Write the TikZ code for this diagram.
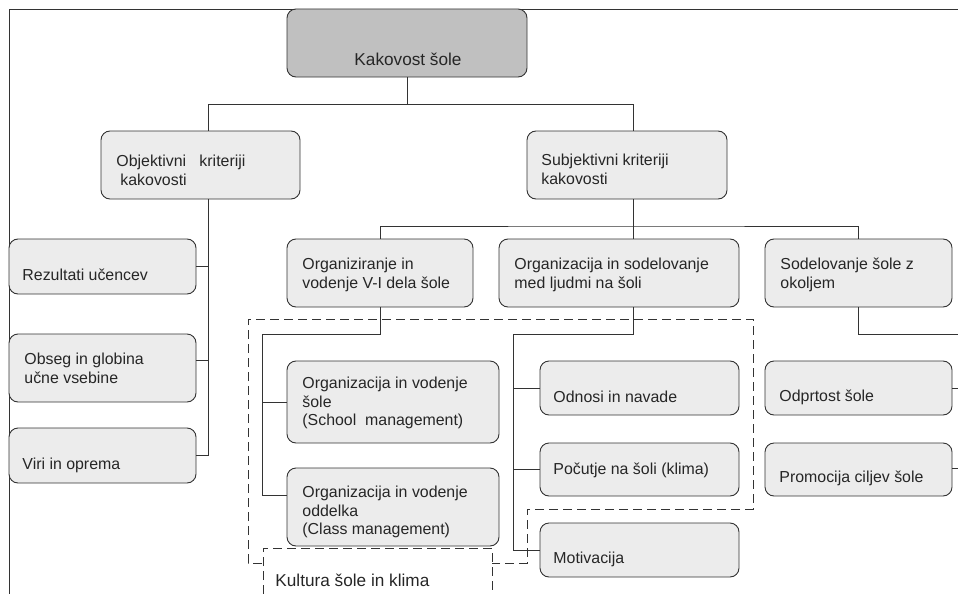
\documentclass[tikz,border=0pt]{standalone}
\usepackage{fontspec}
\setmainfont{Liberation Sans}
\usetikzlibrary{positioning}
\definecolor{boxgray}{RGB}{236,236,236}
\definecolor{topgray}{RGB}{192,192,192}
\definecolor{linegray}{RGB}{51,51,51}
\begin{document}
\begin{tikzpicture}[x=1pt,y=-1pt,line width=0.9pt,color=linegray,
  box/.style={draw=linegray,fill=boxgray,rounded corners=9pt,inner sep=0pt},
  topbox/.style={box,fill=topgray},
  txt/.style={anchor=west,inner sep=0pt,align=left,text=black!85,font=\fontsize{15.9}{18.8}\selectfont},
  bigtxt/.style={txt,font=\fontsize{17.2}{20}\selectfont},
  kult/.style={dash pattern=on 9pt off 5pt}]
\useasboundingbox (0,0) rectangle (958,594);
% frame of the page
\draw (958,9) -- (9,9) -- (9,594);
% boxes
\node[topbox,minimum width=240pt,minimum height=68pt] (kak) at (407,43) {};
\node[box,minimum width=199pt,minimum height=68pt] (obj) at (200.5,165) {};
\node[box,minimum width=200pt,minimum height=68pt] (sub) at (627,165) {};
\node[box,minimum width=187pt,minimum height=55pt] (rez) at (102.5,266.5) {};
\node[box,minimum width=187pt,minimum height=68pt] (obs) at (102.5,368) {};
\node[box,minimum width=187pt,minimum height=55pt] (vir) at (102.5,455.5) {};
\node[box,minimum width=186pt,minimum height=68pt] (orgv) at (380,273) {};
\node[box,minimum width=240pt,minimum height=68pt] (orgs) at (619,273) {};
\node[box,minimum width=187pt,minimum height=68pt] (okol) at (858.5,273) {};
\node[box,minimum width=212pt,minimum height=82pt] (schm) at (393,402) {};
\node[box,minimum width=212pt,minimum height=78pt] (clm) at (393,507) {};
\node[box,minimum width=199pt,minimum height=54pt] (odn) at (639.5,388) {};
\node[box,minimum width=199pt,minimum height=53pt] (poc) at (639.5,469.5) {};
\node[box,minimum width=199pt,minimum height=54pt] (mot) at (639.5,550) {};
\node[box,minimum width=187pt,minimum height=54pt] (odp) at (858.5,388) {};
\node[box,minimum width=187pt,minimum height=53pt] (pro) at (858.5,469.5) {};
% texts
\node[bigtxt,anchor=center] (tkak) at (408,59) {Kakovost šole};
\node[txt] (tobj) at (116,170) {Objektivni\ \ \ kriteriji\\\hspace*{4pt}kakovosti};
\node[txt] (tsub) at (541,169) {Subjektivni kriteriji\\kakovosti};
\node[txt] (trez) at (22,275) {Rezultati učencev};
\node[txt] (tobs) at (24,368.5) {Obseg in globina\\učne vsebine};
\node[txt] (tvir) at (22,465) {Viri in oprema};
\node[txt] (torgv) at (302,275) {Organiziranje in\\vodenje V-I dela šole};
\node[txt] (torgs) at (514,275) {Organizacija in sodelovanje\\med ljudmi na šoli};
\node[txt] (tokol) at (780,275) {Sodelovanje šole z\\okoljem};
\node[txt] (tschm) at (302,403) {Organizacija in vodenje\\šole\\(School\ \ management)};
\node[txt] (tclm) at (302,512) {Organizacija in vodenje\\oddelka\\(Class management)};
\node[txt] (todn) at (553,397) {Odnosi in navade};
\node[txt] (tpoc) at (553,470) {Počutje na šoli (klima)};
\node[txt] (tmot) at (553,559) {Motivacija};
\node[txt] (todp) at (779,397) {Odprtost šole};
\node[txt] (tpro) at (779,478) {Promocija ciljev šole};
\node[bigtxt] (tkul) at (275,580) {Kultura šole in klima};
% junctions
\coordinate (ja) at (208,104);
\coordinate (jb) at (633,104);
\coordinate (jc) at (633,226);
\coordinate (jd) at (262,334);
\coordinate (je) at (513,334);
\coordinate (jf) at (958,334);
% connectors
\draw (kak.south) -- (kak.south |- ja);
\draw (ja |- obj.north) -- (ja) -- (jb) -- (jb |- sub.north);
\draw (ja |- obj.south) |- (vir.east);
\draw (rez.east) -- (rez.east -| ja);
\draw ([yshift=8pt]obs.east) -- ([yshift=8pt]obs.east -| ja);
\draw (jb |- sub.south) -- (jc);
\draw (orgv.north) |- (jc) -| (okol.north);
\draw (jc) -- (jc |- orgs.north);
\draw (orgv.south) |- (jd) |- ([yshift=12pt]clm.west);
\draw (schm.west) -- (schm.west -| jd);
\draw (jc |- orgs.south) |- (je) |- (mot.west);
\draw (odn.west) -- (odn.west -| je);
\draw (poc.west) -- (poc.west -| je);
\draw (okol.south) |- (jf);
\draw (odp.east) -- (odp.east -| jf);
\draw ([yshift=1.5pt]pro.east) -- ([yshift=1.5pt]pro.east -| jf);
% culture area
\draw[kult] (262,563) -- (248,563) -- (248,319) -- (753,319) -- (753,509) -- (527,509) -- (527,563) -- (492,563);
\draw[kult] (263,594) -- (263,548) -- (492,548) -- (492,594);
\end{tikzpicture}
\end{document}
